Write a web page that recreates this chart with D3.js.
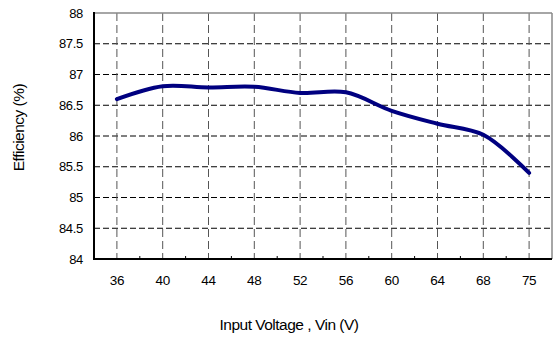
<!DOCTYPE html>
<html>
<head>
<meta charset="utf-8">
<script src="https://cdn.jsdelivr.net/npm/d3@7"></script>
<style>
body { margin: 0; background: #fff; }
text { font-family: "Liberation Sans", Arial, sans-serif; fill: #000; }
</style>
</head>
<body>
<svg width="553" height="337"></svg>
<script>
var voltages = ["36", "40", "44", "48", "52", "56", "60", "64", "68", "75"];
var efficiency = [86.6, 86.81, 86.79, 86.8, 86.7, 86.71, 86.41, 86.2, 86.02, 85.4];
var yTicks = [84, 84.5, 85, 85.5, 86, 86.5, 87, 87.5, 88];

var svg = d3.select("svg");
var plotL = 94, plotR = 552, plotT = 13, plotB = 259;

var x = d3.scaleBand().domain(voltages).range([plotL, plotR]);
var y = d3.scaleLinear().domain([84, 88]).range([plotB, plotT]);
var cx = function (d) { return x(d) + x.bandwidth() / 2; };

// horizontal grid
svg.append("g").selectAll("line").data(yTicks.slice(1, -1)).enter().append("line")
    .attr("x1", plotL).attr("x2", plotR)
    .attr("y1", function (d) { return y(d); }).attr("y2", function (d) { return y(d); })
    .style("stroke", "#000").style("stroke-dasharray", "6,3").style("stroke-width", 1);

// vertical grid
svg.append("g").selectAll("line").data(voltages).enter().append("line")
    .attr("x1", cx).attr("x2", cx)
    .attr("y1", plotT).attr("y2", plotB)
    .style("stroke", "#555").style("stroke-dasharray", "8,4").style("stroke-width", 1);

// frame
svg.append("line").attr("x1", plotL).attr("x2", plotR).attr("y1", plotT).attr("y2", plotT)
    .style("stroke", "#888").style("stroke-width", 1.5);
svg.append("line").attr("x1", plotR).attr("x2", plotR).attr("y1", plotT).attr("y2", plotB)
    .style("stroke", "#888").style("stroke-width", 1.5);

// small ticks at band edges
svg.append("g").selectAll("line").data(voltages.slice(1)).enter().append("line")
    .attr("x1", function (d) { return x(d); }).attr("x2", function (d) { return x(d); })
    .attr("y1", plotB - 3).attr("y2", plotB)
    .style("stroke", "#000").style("stroke-width", 1);

svg.append("line").attr("x1", plotL).attr("x2", plotR).attr("y1", plotB).attr("y2", plotB)
    .style("stroke", "#000").style("stroke-width", 2);
svg.append("line").attr("x1", plotL).attr("x2", plotL).attr("y1", plotT - 1).attr("y2", plotB + 1)
    .style("stroke", "#000").style("stroke-width", 2);

// tick labels
svg.append("g").selectAll("text").data(yTicks).enter().append("text")
    .attr("x", 83).attr("y", function (d) { return y(d) + 4.5; })
    .attr("text-anchor", "end").style("font-size", "13px").style("letter-spacing", "-0.3px")
    .text(function (d) { return d; });

svg.append("g").selectAll("text").data(voltages).enter().append("text")
    .attr("x", cx).attr("y", 285)
    .attr("text-anchor", "middle").style("font-size", "13.5px").style("letter-spacing", "-0.3px")
    .text(function (d) { return d; });

// line
var line = d3.line()
    .x(function (d, i) { return cx(voltages[i]); })
    .y(function (d) { return y(d); })
    .curve(d3.curveCatmullRom.alpha(0.5));

svg.append("path").datum(efficiency).attr("d", line)
    .style("fill", "none").style("stroke", "#000080").style("stroke-width", 4)
    .style("stroke-linecap", "round").style("stroke-linejoin", "round");

// axis titles
svg.append("text").attr("x", 289).attr("y", 330).attr("text-anchor", "middle")
    .style("font-size", "15.5px").style("letter-spacing", "-0.5px").text("Input Voltage , Vin (V)");
svg.append("text").attr("transform", "translate(24,127.5) rotate(-90)")
    .attr("text-anchor", "middle").style("font-size", "15.5px").style("letter-spacing", "-0.5px")
    .text("Efficiency (%)");
</script>
</body>
</html>
